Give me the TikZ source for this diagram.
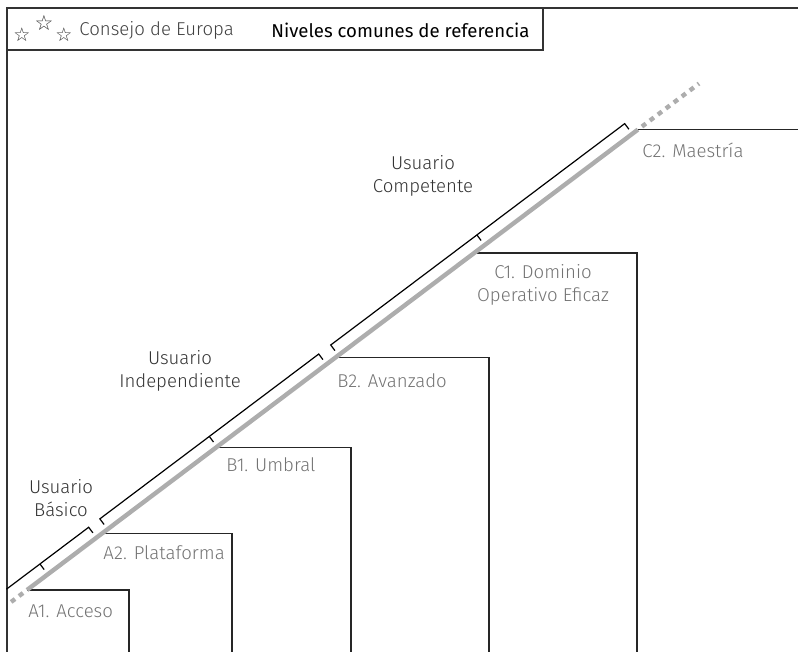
\documentclass[tikz,border=0pt]{standalone}
\usepackage{fontspec}
\setmainfont{Fira Sans}
\newfontfamily\lightfont{Fira Sans Light}
\newfontfamily\starfont{DejaVu Sans}
\usetikzlibrary{calc}

\begin{document}
\begin{tikzpicture}[x=0.5pt, y=0.5pt,
		frameline/.style={draw=black!80, line width=0.6pt},
		stepline/.style={draw=black!85, line width=0.7pt},
		bracketline/.style={draw=black, line width=0.6pt},
		levelline/.style={draw=black!32, line width=2.2pt},
		starlabel/.style={font=\starfont\fontsize{9.5}{9.5}\selectfont, text=black!80, inner sep=0pt},
		levellabel/.style={anchor=west, text=black!55, font=\lightfont\fontsize{9.3}{11.5}\selectfont, inner sep=0pt},
		userlabel/.style={align=center, text=black!80, font=\lightfont\fontsize{9.3}{11.5}\selectfont, inner sep=0pt}]

		\useasboundingbox (0,0) rectangle (798,-652);

		% header
		\draw[frameline] (7,-652) -- (7,-8) -- (798,-8);
		\draw[frameline] (7,-50) -- (543,-50) -- (543,-8);
		\node[starlabel] (star1) at (22,-35) {☆};
		\node[starlabel, font=\starfont\fontsize{10.5}{10.5}\selectfont] (star2) at (44,-23) {☆};
		\node[starlabel] (star3) at (64,-35) {☆};
		\node[anchor=west, inner sep=0pt, text=black!75, font=\lightfont\fontsize{9.3}{11}\selectfont] (consejo) at (79,-30) {Consejo de Europa};
		\node[anchor=west, inner sep=0pt, font=\fontsize{9.3}{11}\selectfont] (niveles) at (271,-30) {Niveles comunes de referencia};

		% levels
		\coordinate (a1) at (27,-590);
		\coordinate (a2) at (102.4,-533.2);
		\coordinate (b1) at (216.4,-447.3);
		\coordinate (b2) at (335.6,-357.5);
		\coordinate (c1) at (474.2,-253);
		\coordinate (c2) at (637.9,-129.6);

		\draw[stepline] (a1) -| (129,-652);
		\draw[stepline] (a2) -| (232,-652);
		\draw[stepline] (b1) -| (351,-652);
		\draw[stepline] (b2) -| (489,-652);
		\draw[stepline] (c1) -| (637,-652);
		\draw[stepline] (c2) -- (798,-129.6);

		\draw[levelline] (a1) -- (c2);
		\draw[levelline, dash pattern=on 2.5pt off 2.5pt, dash phase=2.5pt] (c2) -- ($(a1)!1.1!(c2)$);
		\draw[levelline, dash pattern=on 2.5pt off 2.5pt, dash phase=2.5pt] (a1) -- ($(c2)!1.026!(a1)$);

		% users
		\begin{scope}[shift={(a1)}, rotate=36.98]
			\draw[bracketline] (-16,13) -- (87,13) -- (87,6);
			\draw[bracketline] (26,13) -- (26,6);
			\draw[bracketline] (101,6) -- (101,13) -- (375,13) -- (375,6);
			\draw[bracketline] (238,13) -- (238,6);
			\draw[bracketline] (390,6) -- (390,13) -- (758,13) -- (758,6);
			\draw[bracketline] (573,13) -- (573,6);
		\end{scope}

		\node[levellabel] (lblA1) at (28,-611) {A1. Acceso};
		\node[levellabel] (lblA2) at (103,-553) {A2. Plataforma};
		\node[levellabel] (lblB1) at (226,-465) {B1. Umbral};
		\node[levellabel] (lblB2) at (337,-381) {B2. Avanzado};
		\node[levellabel, anchor=center, align=center] (lblC1) at (543,-285) {C1. Dominio\\Operativo Eficaz};
		\node[levellabel] (lblC2) at (642,-150) {C2. Maestría};

		\node[userlabel] (basico) at (61,-498) {Usuario\\Básico};
		\node[userlabel] (independiente) at (180,-371) {Usuario\\Independiente};
		\node[userlabel] (competente) at (423,-176) {Usuario\\Competente};

	\end{tikzpicture}
\end{document}
